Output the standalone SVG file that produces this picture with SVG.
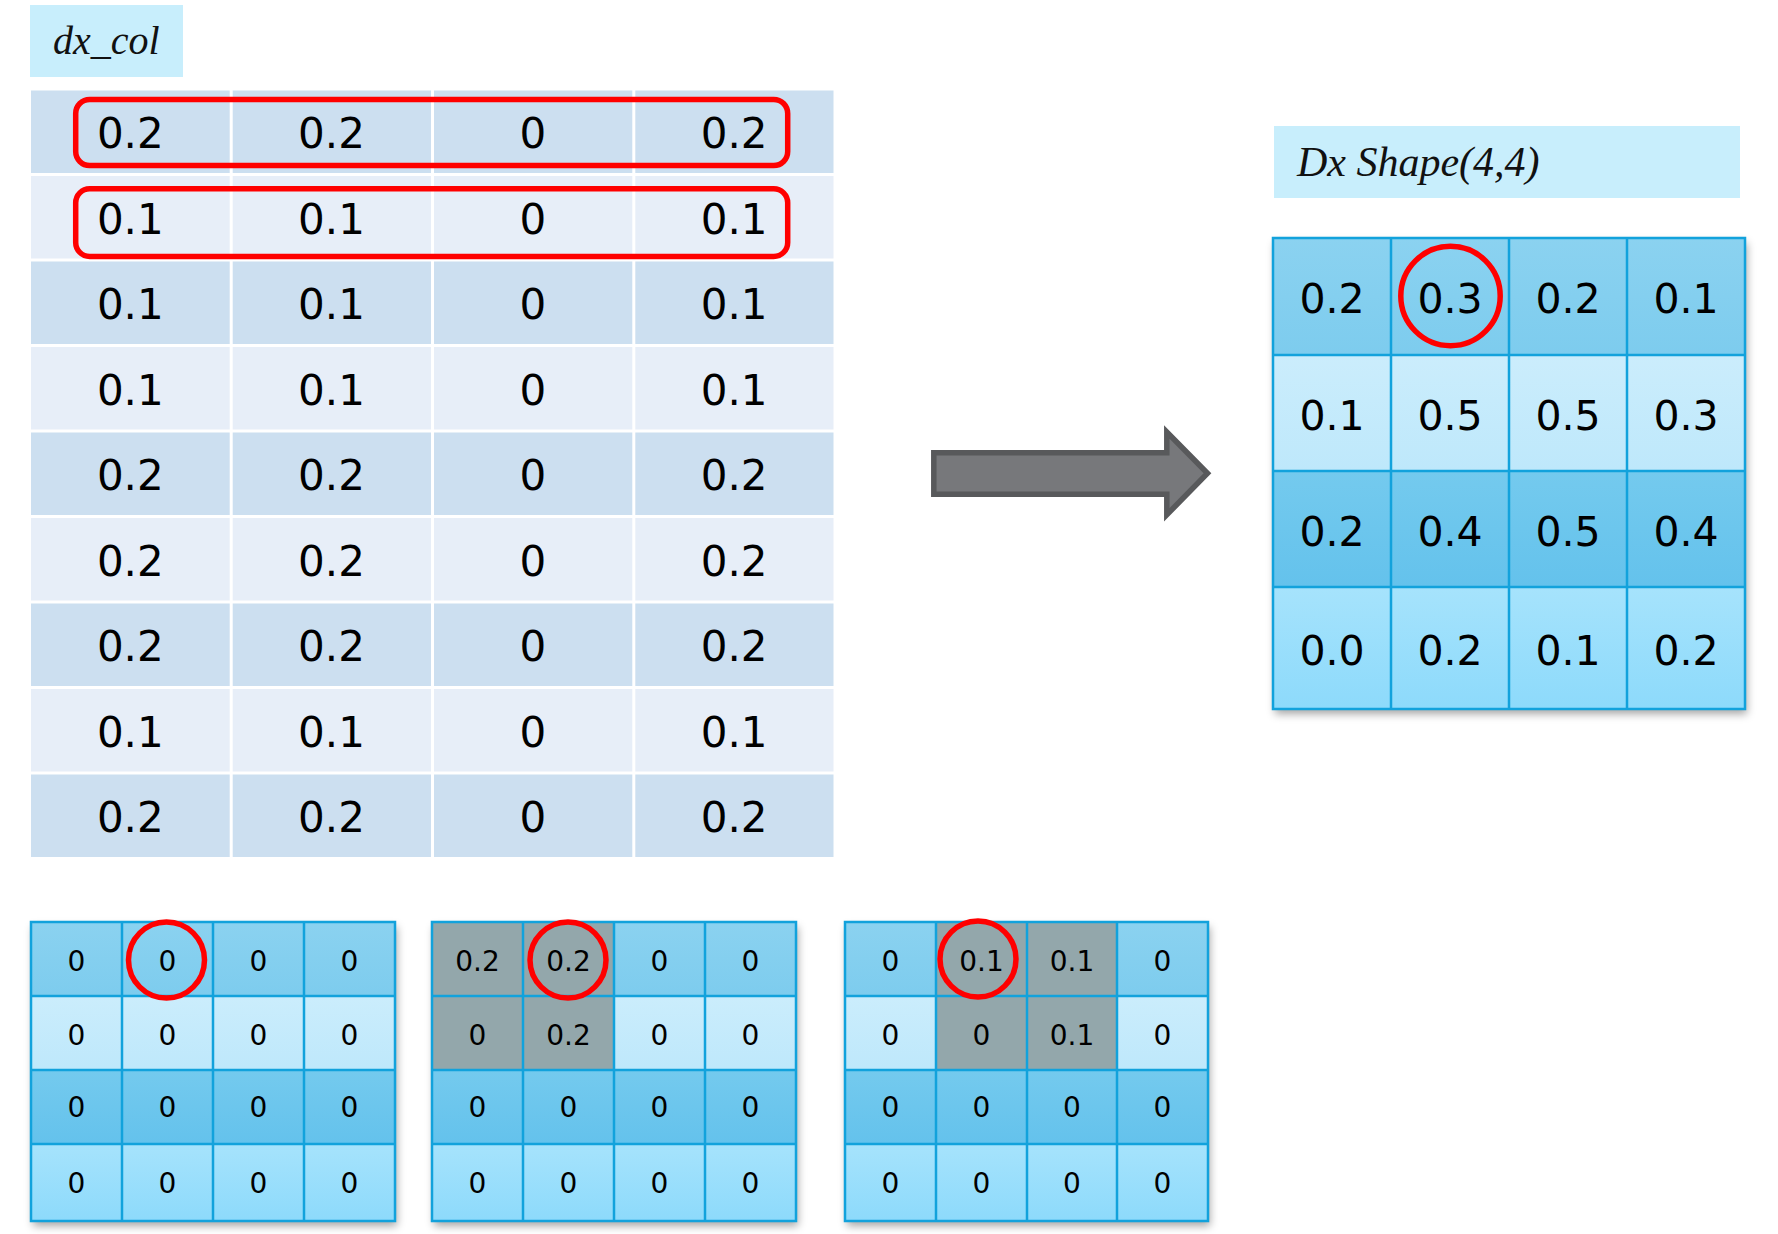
<svg xmlns="http://www.w3.org/2000/svg" width="1778" height="1234" viewBox="0 0 1778 1234">
<defs>
<linearGradient id="g1" x1="0" y1="0" x2="0" y2="1"><stop offset="0" stop-color="#8BD2F0"/><stop offset="1" stop-color="#7DCCEE"/></linearGradient>
<linearGradient id="g2" x1="0" y1="0" x2="0" y2="1"><stop offset="0" stop-color="#CBEDFC"/><stop offset="1" stop-color="#BEE8FB"/></linearGradient>
<linearGradient id="g3" x1="0" y1="0" x2="0" y2="1"><stop offset="0" stop-color="#74CAEE"/><stop offset="1" stop-color="#64C2EC"/></linearGradient>
<linearGradient id="g4" x1="0" y1="0" x2="0" y2="1"><stop offset="0" stop-color="#A6E3FC"/><stop offset="1" stop-color="#8DDAFB"/></linearGradient>
<filter id="sh" x="-10%" y="-10%" width="125%" height="125%"><feDropShadow dx="2" dy="5" stdDeviation="4" flood-color="#000" flood-opacity="0.35"/></filter>
</defs>
<style>
.lbl{fill:#C8EEFC}
.lt{font-family:"Liberation Serif",serif;font-style:italic;font-size:40px;fill:#111}
.dk{fill:#CCDFF0}
.li{fill:#E7EEF8}
.tv{font-family:"DejaVu Sans",sans-serif;font-size:42px;fill:#000;text-anchor:middle}
.bv{font-family:"DejaVu Sans",sans-serif;font-size:41px;fill:#000;text-anchor:middle}
.sv{font-family:"DejaVu Sans",sans-serif;font-size:28px;fill:#000;text-anchor:middle}
.gl{stroke:#12A2DC;stroke-width:2.5;fill:none}
.red{stroke:#FF0000;stroke-width:5.5;fill:none}
.gray{fill:#93A7AB}
</style>
<rect width="1778" height="1234" fill="#FFFFFF"/>

<g id="dx_col_label">
<rect class="lbl" x="30" y="5" width="153" height="72"/>
<text class="lt" x="53" y="54">dx_col</text>
</g>

<g id="dx_col_table">
<rect class="dk" x="31" y="90.5" width="802.5" height="82.5"/>
<rect class="li" x="31" y="176" width="802.5" height="82.5"/>
<rect class="dk" x="31" y="261.5" width="802.5" height="82.5"/>
<rect class="li" x="31" y="347" width="802.5" height="82.5"/>
<rect class="dk" x="31" y="432.5" width="802.5" height="82.5"/>
<rect class="li" x="31" y="518" width="802.5" height="82.5"/>
<rect class="dk" x="31" y="603.5" width="802.5" height="82.5"/>
<rect class="li" x="31" y="689" width="802.5" height="82.5"/>
<rect class="dk" x="31" y="774.5" width="802.5" height="82.5"/>
<g fill="#FFFFFF">
<rect x="229.7" y="90" width="3" height="768"/>
<rect x="431" y="90" width="3" height="768"/>
<rect x="632.3" y="90" width="3" height="768"/>
</g>
<g class="tv">
<text x="130.3" y="148">0.2</text><text x="331.5" y="148">0.2</text><text x="532.9" y="148">0</text><text x="734.2" y="148">0.2</text>
<text x="130.3" y="233.5">0.1</text><text x="331.5" y="233.5">0.1</text><text x="532.9" y="233.5">0</text><text x="734.2" y="233.5">0.1</text>
<text x="130.3" y="319">0.1</text><text x="331.5" y="319">0.1</text><text x="532.9" y="319">0</text><text x="734.2" y="319">0.1</text>
<text x="130.3" y="404.5">0.1</text><text x="331.5" y="404.5">0.1</text><text x="532.9" y="404.5">0</text><text x="734.2" y="404.5">0.1</text>
<text x="130.3" y="490">0.2</text><text x="331.5" y="490">0.2</text><text x="532.9" y="490">0</text><text x="734.2" y="490">0.2</text>
<text x="130.3" y="575.5">0.2</text><text x="331.5" y="575.5">0.2</text><text x="532.9" y="575.5">0</text><text x="734.2" y="575.5">0.2</text>
<text x="130.3" y="661">0.2</text><text x="331.5" y="661">0.2</text><text x="532.9" y="661">0</text><text x="734.2" y="661">0.2</text>
<text x="130.3" y="746.5">0.1</text><text x="331.5" y="746.5">0.1</text><text x="532.9" y="746.5">0</text><text x="734.2" y="746.5">0.1</text>
<text x="130.3" y="832">0.2</text><text x="331.5" y="832">0.2</text><text x="532.9" y="832">0</text><text x="734.2" y="832">0.2</text>
</g>
</g>

<g id="row_highlights">
<rect class="red" x="75.7" y="99.4" width="712" height="66.2" rx="14" ry="14"/>
<rect class="red" x="75.7" y="188.8" width="712" height="67.7" rx="14" ry="14"/>
</g>

<g id="connectors">
<path d="M933.8,452.8 H1166.8 V432 L1207.5,473.3 L1166.8,514.8 V494.2 H933.8 Z" fill="#77787B" stroke="#58595B" stroke-width="5.5" stroke-linejoin="miter"/>
</g>

<g id="dx_shape_label">
<rect class="lbl" x="1274" y="126" width="466" height="72"/>
<text class="lt" x="1297" y="176" font-size="42" style="font-size:42px">Dx Shape(4,4)</text>
</g>

<g id="dx_grid">
<rect x="1273" y="238" width="472" height="471" fill="#7DCCEE" filter="url(#sh)"/>
<rect x="1273" y="238" width="472" height="117" fill="url(#g1)"/>
<rect x="1273" y="355" width="472" height="116" fill="url(#g2)"/>
<rect x="1273" y="471" width="472" height="116" fill="url(#g3)"/>
<rect x="1273" y="587" width="472" height="122" fill="url(#g4)"/>
<path class="gl" d="M1391,238 V709 M1509,238 V709 M1627,238 V709 M1273,355 H1745 M1273,471 H1745 M1273,587 H1745"/>
<rect class="gl" x="1273" y="238" width="472" height="471" stroke-width="3"/>
<g class="bv">
<text x="1332" y="313">0.2</text><text x="1450" y="313">0.3</text><text x="1568" y="313">0.2</text><text x="1686" y="313">0.1</text>
<text x="1332" y="430">0.1</text><text x="1450" y="430">0.5</text><text x="1568" y="430">0.5</text><text x="1686" y="430">0.3</text>
<text x="1332" y="546">0.2</text><text x="1450" y="546">0.4</text><text x="1568" y="546">0.5</text><text x="1686" y="546">0.4</text>
<text x="1332" y="665">0.0</text><text x="1450" y="665">0.2</text><text x="1568" y="665">0.1</text><text x="1686" y="665">0.2</text>
</g>
<circle class="red" cx="1450.5" cy="296" r="49.7"/>
</g>

<g id="grid_a">
<rect x="31" y="922" width="364" height="299" fill="#7DCCEE" filter="url(#sh)"/>
<rect x="31" y="922" width="364" height="74" fill="url(#g1)"/>
<rect x="31" y="996" width="364" height="74" fill="url(#g2)"/>
<rect x="31" y="1070" width="364" height="74" fill="url(#g3)"/>
<rect x="31" y="1144" width="364" height="77" fill="url(#g4)"/>
<path class="gl" d="M122,922 V1221 M213,922 V1221 M304,922 V1221 M31,996 H395 M31,1070 H395 M31,1144 H395"/>
<rect class="gl" x="31" y="922" width="364" height="299" stroke-width="3"/>
<g class="sv">
<text x="76.5" y="971">0</text><text x="167.5" y="971">0</text><text x="258.5" y="971">0</text><text x="349.5" y="971">0</text>
<text x="76.5" y="1045">0</text><text x="167.5" y="1045">0</text><text x="258.5" y="1045">0</text><text x="349.5" y="1045">0</text>
<text x="76.5" y="1117">0</text><text x="167.5" y="1117">0</text><text x="258.5" y="1117">0</text><text x="349.5" y="1117">0</text>
<text x="76.5" y="1193">0</text><text x="167.5" y="1193">0</text><text x="258.5" y="1193">0</text><text x="349.5" y="1193">0</text>
</g>
<circle class="red" cx="166.5" cy="960" r="38"/>
</g>

<g id="grid_b">
<rect x="432" y="922" width="364" height="299" fill="#7DCCEE" filter="url(#sh)"/>
<rect x="432" y="922" width="364" height="74" fill="url(#g1)"/>
<rect x="432" y="996" width="364" height="74" fill="url(#g2)"/>
<rect x="432" y="1070" width="364" height="74" fill="url(#g3)"/>
<rect x="432" y="1144" width="364" height="77" fill="url(#g4)"/>
<rect class="gray" x="432" y="922" width="182" height="148"/>
<path class="gl" d="M523,922 V1221 M614,922 V1221 M705,922 V1221 M432,996 H796 M432,1070 H796 M432,1144 H796"/>
<rect class="gl" x="432" y="922" width="364" height="299" stroke-width="3"/>
<g class="sv">
<text x="477.5" y="971">0.2</text><text x="568.5" y="971">0.2</text><text x="659.5" y="971">0</text><text x="750.5" y="971">0</text>
<text x="477.5" y="1045">0</text><text x="568.5" y="1045">0.2</text><text x="659.5" y="1045">0</text><text x="750.5" y="1045">0</text>
<text x="477.5" y="1117">0</text><text x="568.5" y="1117">0</text><text x="659.5" y="1117">0</text><text x="750.5" y="1117">0</text>
<text x="477.5" y="1193">0</text><text x="568.5" y="1193">0</text><text x="659.5" y="1193">0</text><text x="750.5" y="1193">0</text>
</g>
<circle class="red" cx="568" cy="960" r="38"/>
</g>

<g id="grid_c">
<rect x="845" y="922" width="363" height="299" fill="#7DCCEE" filter="url(#sh)"/>
<rect x="845" y="922" width="363" height="74" fill="url(#g1)"/>
<rect x="845" y="996" width="363" height="74" fill="url(#g2)"/>
<rect x="845" y="1070" width="363" height="74" fill="url(#g3)"/>
<rect x="845" y="1144" width="363" height="77" fill="url(#g4)"/>
<rect class="gray" x="936" y="922" width="181" height="148"/>
<path class="gl" d="M936,922 V1221 M1027,922 V1221 M1117,922 V1221 M845,996 H1208 M845,1070 H1208 M845,1144 H1208"/>
<rect class="gl" x="845" y="922" width="363" height="299" stroke-width="3"/>
<g class="sv">
<text x="890.5" y="971">0</text><text x="981.5" y="971">0.1</text><text x="1072" y="971">0.1</text><text x="1162.5" y="971">0</text>
<text x="890.5" y="1045">0</text><text x="981.5" y="1045">0</text><text x="1072" y="1045">0.1</text><text x="1162.5" y="1045">0</text>
<text x="890.5" y="1117">0</text><text x="981.5" y="1117">0</text><text x="1072" y="1117">0</text><text x="1162.5" y="1117">0</text>
<text x="890.5" y="1193">0</text><text x="981.5" y="1193">0</text><text x="1072" y="1193">0</text><text x="1162.5" y="1193">0</text>
</g>
<circle class="red" cx="978" cy="959" r="38"/>
</g>
</svg>
